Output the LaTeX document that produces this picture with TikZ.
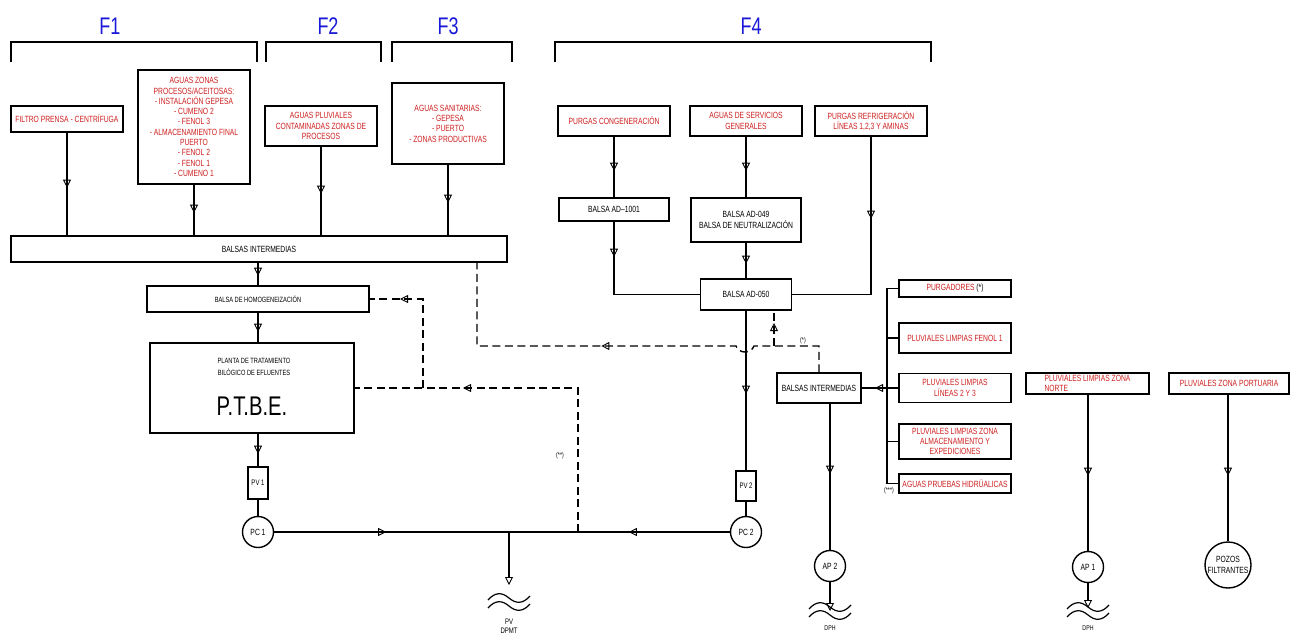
\documentclass[tikz,border=0pt]{standalone}
\usepackage{fontspec}
\setmainfont{Liberation Sans}[FakeStretch=0.75]
\usetikzlibrary{arrows.meta,decorations.markings}
\definecolor{srcred}{RGB}{205,30,30}
\definecolor{fblue}{RGB}{25,25,215}
\tikzset{
  box/.style={draw, line width=1.4pt, inner sep=1pt, align=center, font=\fontsize{9}{10.3}\selectfont},
  src/.style={box, text=srcred, minimum width=112pt},
  conn/.style={line width=1.4pt},
  ret/.style={conn, dash pattern=on 8pt off 4.5pt},
  flow/.style={postaction={decorate}, decoration={markings, mark=at position #1 with {\arrow{Triangle[open,length=8pt,width=8pt,line width=0.9pt]}}}},
  outarr/.style={-{Triangle[open,length=8pt,width=8pt,line width=0.9pt]}},
  fase/.style={text=fblue, font=\fontsize{24}{24}\selectfont},
  note/.style={font=\fontsize{7}{8}\selectfont},
  pump/.style={box, circle, minimum size=31pt, inner sep=0pt}
}

\begin{document}
\begin{tikzpicture}[x=1pt,y=-1pt]
\useasboundingbox (0,0) rectangle (1290,635);

\foreach \a/\b/\lx/\lab in {11/257/110/F1, 266/381/328/F2, 392/512/448/F3, 555/931/751/F4}{
  \draw[conn] (\a,62) |- (\b,42) -- (\b,62);
  \node[fase] (\lab) at (\lx,26) {\lab};
}

% F1 F2 F3
\node[src, minimum height=26pt] (filtro) at (67,119) {FILTRO PRENSA - CENTRÍFUGA};
\node[src, minimum height=114pt] (zonas) at (194,127) {AGUAS ZONAS\\PROCESOS/ACEITOSAS:\\- INSTALACIÓN GEPESA\\- CUMENO 2\\- FENOL 3\\- ALMACENAMIENTO FINAL\\PUERTO\\- FENOL 2\\- FENOL 1\\- CUMENO 1};
\node[src, minimum height=40pt] (pluv) at (321,126) {AGUAS PLUVIALES\\CONTAMINADAS ZONAS DE\\PROCESOS};
\node[src, minimum height=81pt] (sanit) at (448,123.5) {AGUAS SANITARIAS:\\- GEPESA\\- PUERTO\\- ZONAS PRODUCTIVAS};
\node[box, minimum width=496pt, minimum height=26pt] (balsasA) at (259,249) {BALSAS INTERMEDIAS};

\draw[conn, flow=55pt] (filtro.south) -- (filtro.south |- balsasA.north);
\draw[conn, flow=28pt] (zonas.south) -- (zonas.south |- balsasA.north);
\draw[conn, flow=47pt] (pluv.south) -- (pluv.south |- balsasA.north);
\draw[conn, flow=38pt] (sanit.south) -- (sanit.south |- balsasA.north);

\node[box, font=\fontsize{7.6}{9}\selectfont, minimum width=222pt, minimum height=26pt] (homog) at (258,299) {BALSA DE HOMOGENEIZACIÓN};
\node[box, minimum width=204pt, minimum height=90pt] (ptbe) at (252,388) {};
\node[font=\fontsize{7.6}{12}\selectfont, align=center] (ptbeTxt) at (254,367) {PLANTA DE TRATAMIENTO\\BILÓGICO DE EFLUENTES};
\node[font=\fontsize{27}{27}\selectfont] (ptbeAbr) at (252,406) {P.T.B.E.};
\node[box, font=\fontsize{8}{8}\selectfont, minimum width=20pt, minimum height=32pt, inner sep=0pt] (pv1) at (258,483) {PV 1};
\node[pump] (pc1) at (258,532) {PC 1};

\draw[conn, flow=13pt] (homog.north |- balsasA.south) -- (homog.north);
\draw[conn, flow=19pt] (homog.south) -- (homog.south |- ptbe.north);
\draw[conn, flow=20pt] (pv1.north |- ptbe.south) -- (pv1.north);
\draw[conn] (pv1) -- (pc1);

% F4
\node[src, minimum height=30pt] (pcong) at (614,121) {PURGAS CONGENERACIÓN};
\node[src, minimum height=30pt] (aserv) at (746,121) {AGUAS DE SERVICIOS\\GENERALES};
\node[src, minimum height=30pt] (prefr) at (871,121) {PURGAS REFRIGERACIÓN\\LÍNEAS 1,2,3 Y AMINAS};
\node[box, minimum width=110pt, minimum height=23pt] (ad1001) at (614,209.5) {BALSA AD–1001};
\node[box, minimum width=110pt, minimum height=44pt] (ad049) at (746,220) {BALSA AD-049\\BALSA DE NEUTRALIZACIÓN};
\node[box, minimum width=91pt, minimum height=31pt] (ad050) at (746,294.5) {BALSA AD-050};
\node[box, font=\fontsize{8}{8}\selectfont, minimum width=20pt, minimum height=30pt, inner sep=0pt] (pv2) at (746,486) {PV 2};
\node[pump] (pc2) at (746,532) {PC 2};

\draw[conn, flow=34pt] (pcong.south) -- (ad1001.north);
\draw[conn, flow=34pt] (aserv.south) -- (ad049.north);
\draw[conn, flow=35pt] (ad1001.south) |- (ad050.west);
\draw[conn, flow=21pt] (ad049.south) -- (ad050.north);
\draw[conn, flow=82pt] (prefr.south) |- (ad050.east);
\draw[conn, flow=83pt] (ad050.south) -- (pv2.north);
\draw[conn] (pv2) -- (pc2);

% vertido
\coordinate (jpv) at (509,532);
\coordinate (jret) at (578,532);
\coordinate (dpmt) at (509,585);
\draw[conn, flow=112pt] (pc1.east) -- (jpv);
\draw[conn, flow=101pt] (pc2.west) -- (jpv);
\draw[conn, outarr] (jpv) -- (dpmt);

% recirculacion
\coordinate (jrec) at (423,388);
\draw[ret, flow=259pt] (jret) |- (ptbe.east);
\draw[ret, flow=112pt] (jrec) |- (homog.east);
\node[note] (nota2) at (560,456) {(**)};

% balsas intermedias F4
\node[box, minimum width=84pt, minimum height=30pt] (balsasB) at (819,388) {BALSAS INTERMEDIAS};
\node[pump] (ap2) at (830,566) {AP 2};
\coordinate (hopR) at (754,346);
\coordinate (hopL) at (736,346);
\coordinate (retA) at (477,262);
\coordinate (jad) at (774,346);
\draw[ret, flow=249pt] (balsasB.north) |- (hopR) .. controls +(-3,8) and +(3,8) .. (hopL) -- (hopL -| retA) -- (retA);
\draw[ret, flow=23pt] (jad) -- (jad |- ad050.south);
\node[note] (nota1) at (803,341) {(*)};
\coordinate (dph2) at (830,611);
\draw[conn, flow=70pt] (ap2.north |- balsasB.south) -- (ap2.north);
\draw[conn, outarr] (ap2.south) -- (dph2);

\node[src, minimum height=17pt] (purg) at (955,288.5) {PURGADORES \textcolor{black}{(*)}};
\node[src, minimum height=30pt] (fenol) at (955,338) {PLUVIALES LIMPIAS FENOL 1};
\node[src, minimum height=29pt] (lineas) at (955,388) {PLUVIALES LIMPIAS\\LÍNEAS 2 Y 3};
\node[src, minimum height=35pt] (almac) at (955,441.5) {PLUVIALES LIMPIAS ZONA\\ALMACENAMIENTO Y\\EXPEDICIONES};
\node[src, minimum height=19pt] (pruebas) at (955,483.5) {AGUAS PRUEBAS HIDRÚALICAS};
\coordinate (bus) at (887,388);
\foreach \s in {purg,fenol,lineas,almac,pruebas}
  \draw[conn] (\s.west) -| (bus);
\draw[conn, flow=12pt] (bus) -- (balsasB.east);
\node[note] (nota3) at (889,491) {(***)};

% pluviales
\node[src, align=left, minimum width=123pt, minimum height=21pt] (norte) at (1087.5,383.5) {PLUVIALES LIMPIAS ZONA\\NORTE};
\node[pump] (ap1) at (1088,567) {AP 1};
\coordinate (dph1) at (1088,608);
\draw[conn, flow=81pt] (ap1.north |- norte.south) -- (ap1.north);
\draw[conn, outarr] (ap1.south) -- (dph1);

\node[src, minimum width=120pt, minimum height=21pt] (port) at (1229,383.5) {PLUVIALES ZONA PORTUARIA};
\node[box, circle, minimum size=46pt, inner sep=0pt] (pozos) at (1228,565) {POZOS\\FILTRANTES};
\draw[conn, flow=81pt] (pozos.north |- port.south) -- (pozos.north);

% cauces
\foreach \wx/\wy in {509/594, 830/603, 1088/603}{
  \foreach \dy in {0,8}
    \draw[line width=1.2pt] (\wx-21,\wy+\dy+6) .. controls (\wx-14,\wy+\dy-2) and (\wx-7,\wy+\dy-2) .. (\wx,\wy+\dy+4) .. controls (\wx+7,\wy+\dy+10) and (\wx+14,\wy+\dy+10) .. (\wx+21,\wy+\dy+2);
}
\node[font=\fontsize{8}{9.5}\selectfont, align=center] (pvdpmt) at (509,626) {PV\\DPMT};
\node[font=\fontsize{7}{7}\selectfont, anchor=north, inner sep=0pt] (dphA) at (830,625) {DPH};
\node[font=\fontsize{7}{7}\selectfont, anchor=north, inner sep=0pt] (dphB) at (1088,625) {DPH};

\end{tikzpicture}
\end{document}
